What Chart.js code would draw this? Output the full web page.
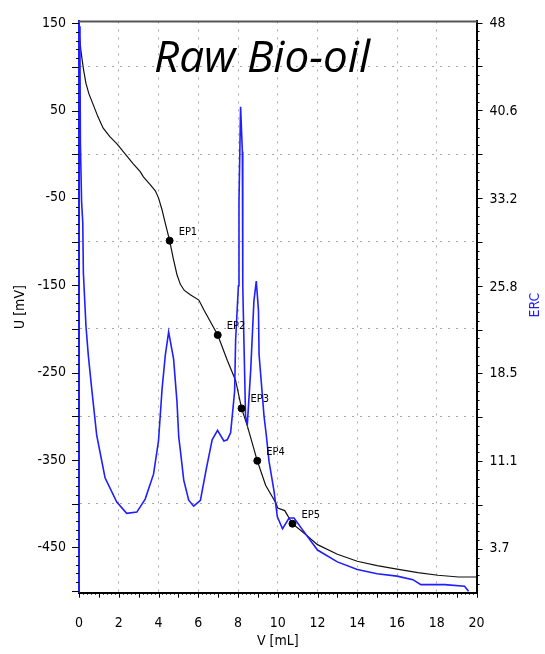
<!DOCTYPE html>
<html>
<head>
<meta charset="utf-8">
<script src="https://cdn.jsdelivr.net/npm/chart.js@4.4.1/dist/chart.umd.min.js"></script>
<style>
  html, body { margin: 0; padding: 0; background: #fff; }
  #marco { width: 545px; height: 654px; }
</style>
</head>
<body>
<div id="marco"><canvas id="grafico" width="545" height="654"></canvas></div>
<script>
// Curva de potencial U (negra, eje izquierdo)
const volumenU = [0, 0.1, 0.22, 0.35, 0.5, 0.71, 0.95, 1.21, 1.55, 1.9, 2.3, 2.73, 3.08, 3.24, 3.55, 3.84, 4.0, 4.17, 4.34, 4.56, 4.75, 4.93, 5.1, 5.3, 5.6, 6.03, 6.28, 6.98, 7.46, 7.88, 8.18, 8.47, 8.97, 9.39, 9.9, 10.0, 10.35, 10.74, 11.33, 12.0, 13.0, 14.0, 15.0, 16.0, 17.05, 18.06, 19.1, 20];
const potencialU = [140, 118, 98, 81, 69, 57, 43, 30, 20, 12, 1, -11, -20, -26, -34, -42, -50, -63, -79, -99, -120, -138, -149, -156, -161, -167, -178, -207, -236, -259, -291, -311, -351, -379, -399, -405, -408, -423, -434, -447, -458, -466, -471, -475, -479, -482, -484, -484];

// Curva ERC (azul, eje derecho)
const volumenERC = [0, 0.05, 0.07, 0.13, 0.19, 0.22, 0.35, 0.47, 0.64, 0.89, 1.31, 1.9, 2.4, 2.91, 3.33, 3.75, 4.0, 4.18, 4.34, 4.51, 4.76, 4.93, 5.02, 5.1, 5.27, 5.52, 5.77, 6.11, 6.4, 6.7, 6.97, 7.29, 7.46, 7.63, 7.83, 7.88, 8.02, 8.05, 8.13, 8.22, 8.23, 8.25, 8.3, 8.38, 8.47, 8.64, 8.8, 8.92, 9.03, 9.06, 9.19, 9.31, 9.43, 9.56, 9.81, 9.98, 10.24, 10.57, 10.82, 11.25, 12.0, 13.0, 14.0, 15.0, 16.0, 16.8, 17.2, 18.4, 19.4, 19.6];
const valorERC = [47.8, 45, 38, 33, 31.2, 27, 22.5, 20, 17.2, 13.3, 9.7, 7.65, 6.7, 6.8, 7.9, 10, 12.8, 17.2, 20, 22, 19.7, 16.1, 13.1, 12, 9.5, 7.8, 7.3, 7.8, 10.4, 12.9, 13.7, 12.8, 12.9, 13.5, 17, 21.3, 25.9, 33, 41, 37.2, 33, 25.9, 21.1, 14.9, 14.2, 18.8, 24.6, 26.3, 23.8, 20.1, 17.4, 14.9, 13.2, 11.1, 8.6, 6.4, 5.4, 6.3, 6.3, 5.3, 3.6, 2.6, 1.95, 1.6, 1.4, 1.1, 0.68, 0.68, 0.54, 0.13];

// Puntos de equivalencia
const nombresEP = ['EP1', 'EP2', 'EP3', 'EP4', 'EP5'];
const volumenEP = [4.56, 6.98, 8.18, 8.97, 10.74];
const potencialEP = [-99, -207, -291, -351, -423];

// Marcas de los ejes
const ticksV = [0, 2, 4, 6, 8, 10, 12, 14, 16, 18, 20];
const ticksU = [150, 50, -50, -150, -250, -350, -450];
const rejillaU = [100, 0, -100, -200, -300, -400];
const ticksERC = [48, 40.6, 33.2, 25.8, 18.5, 11.1, 3.7];

const fuenteEje = "'DejaVu Sans', 'Liberation Sans', sans-serif";
const fuenteTick = { family: fuenteEje, size: 14, weight: 'condensed' };
const azul = '#1f1fff';
const punteado = '#a8a8a8';

// une dos listas en puntos {x, y}
function puntos(xs, ys) {
    return xs.map((v, i) => ({ x: v, y: ys[i] }));
}

const marcasEjes = {
    id: 'marcasEjes',
    afterDraw(chart) {
        const ctx = chart.ctx;
        const a = chart.chartArea;
        const sx = chart.scales.x, sy = chart.scales.y, sy2 = chart.scales.y2;
        ctx.save();

        // marcas menores y mayores
        ctx.strokeStyle = '#000';
        ctx.lineWidth = 1;
        ctx.beginPath();
        for (let i = 0; i <= 100; i++) {
            const px = Math.round(sx.getPixelForValue(i * 0.2)) + 0.5;
            const largo = i % 5 === 0 ? 5 : 2;
            ctx.moveTo(px, a.bottom);
            ctx.lineTo(px, a.bottom + largo);
        }
        for (let v = -500; v <= 150; v += 10) {
            const py = Math.round(sy.getPixelForValue(v)) + 0.5;
            const largo = v % 50 === 0 ? 7 : 3;
            ctx.moveTo(a.left, py);
            ctx.lineTo(a.left - largo, py);
        }
        for (let i = 1; i <= 65; i++) {
            const py = Math.round(sy2.getPixelForValue(i * 0.74)) + 0.5;
            const largo = i % 5 === 0 ? 6 : 3;
            ctx.moveTo(a.right, py);
            ctx.lineTo(a.right + largo, py);
        }
        ctx.stroke();

        // borde superior
        ctx.strokeStyle = '#555';
        ctx.lineWidth = 2;
        ctx.beginPath();
        ctx.moveTo(a.left, a.top);
        ctx.lineTo(a.right + 1, a.top);
        ctx.stroke();

        // título del eje derecho, leído de abajo hacia arriba
        ctx.save();
        ctx.translate(535, 305);
        ctx.rotate(-Math.PI / 2);
        ctx.fillStyle = azul;
        ctx.font = 'condensed 14px ' + fuenteEje;
        ctx.textAlign = 'center';
        ctx.textBaseline = 'middle';
        ctx.fillText('ERC', 0, 0);
        ctx.restore();

        // nombres de los puntos de equivalencia
        const meta = chart.getDatasetMeta(0);
        ctx.fillStyle = '#000';
        ctx.font = 'condensed 11px ' + fuenteEje;
        ctx.textAlign = 'left';
        ctx.textBaseline = 'middle';
        meta.data.forEach((p, i) => {
            ctx.fillText(nombresEP[i], p.x + 9, p.y - 9);
        });

        // rótulo de la muestra
        ctx.font = "italic 44px 'Open Sans', sans-serif";
        ctx.textBaseline = 'alphabetic';
        ctx.fillText('Raw Bio-oil', 154, 72);
        ctx.restore();
    }
};

new Chart(document.getElementById('grafico'), {
    type: 'line',
    data: {
        datasets: [
            {
                label: 'EP',
                type: 'scatter',
                data: puntos(volumenEP, potencialEP),
                yAxisID: 'y',
                pointStyle: 'circle',
                pointRadius: 3.5,
                pointBackgroundColor: '#000',
                pointBorderColor: '#000',
                showLine: false
            },
            {
                label: 'ERC',
                data: puntos(volumenERC, valorERC),
                yAxisID: 'y2',
                borderColor: azul,
                borderWidth: 1.6,
                pointRadius: 0,
                tension: 0
            },
            {
                label: 'U',
                data: puntos(volumenU, potencialU),
                yAxisID: 'y',
                borderColor: '#111',
                borderWidth: 1.2,
                pointRadius: 0,
                tension: 0
            }
        ]
    },
    options: {
        responsive: false,
        devicePixelRatio: 1,
        animation: false,
        layout: { padding: { top: 12, left: 0, right: 0, bottom: 0 } },
        plugins: {
            legend: { display: false },
            tooltip: { enabled: false }
        },
        scales: {
            x: {
                type: 'linear',
                min: 0,
                max: 20,
                afterBuildTicks: s => { s.ticks = ticksV.map(v => ({ value: v })); },
                afterFit: s => { s.height = 61.3; },
                ticks: { color: '#000', font: fuenteTick, padding: 22, maxRotation: 0, autoSkip: false },
                grid: {
                    drawTicks: false,
                    color: c => (c.tick && c.tick.value > 0 && c.tick.value < 20) ? punteado : 'transparent',
                    lineWidth: 1
                },
                border: { display: true, color: '#000', width: 2, dash: [2, 6] },
                title: { display: true, text: 'V [mL]', color: '#000', font: fuenteTick, padding: { top: 0, bottom: 4 } }
            },
            y: {
                type: 'linear',
                position: 'left',
                min: -502,
                max: 152,
                afterBuildTicks: s => { s.ticks = ticksU.concat(rejillaU).map(v => ({ value: v })); },
                afterFit: s => { s.width = 79; },
                ticks: {
                    color: '#000',
                    font: fuenteTick,
                    padding: 13,
                    autoSkip: false,
                    callback: v => ticksU.includes(v) ? String(v) : ''
                },
                grid: {
                    drawTicks: false,
                    color: c => (c.tick && rejillaU.includes(c.tick.value)) ? punteado : 'transparent',
                    lineWidth: 1
                },
                border: { display: true, color: azul, width: 2, dash: [2, 6] },
                title: { display: true, text: 'U [mV]', color: '#000', font: fuenteTick, padding: { top: 12, bottom: 0 } }
            },
            y2: {
                type: 'linear',
                position: 'right',
                min: 0,
                max: 48.2,
                afterBuildTicks: s => { s.ticks = ticksERC.map(v => ({ value: v })); },
                afterFit: s => { s.width = 68.5; },
                ticks: { color: '#000', font: fuenteTick, padding: 13, autoSkip: false, callback: v => String(v) },
                grid: { drawTicks: false, drawOnChartArea: false },
                border: { display: true, color: '#000', width: 2 }
            }
        }
    },
    plugins: [marcasEjes]
});
</script>
</body>
</html>
